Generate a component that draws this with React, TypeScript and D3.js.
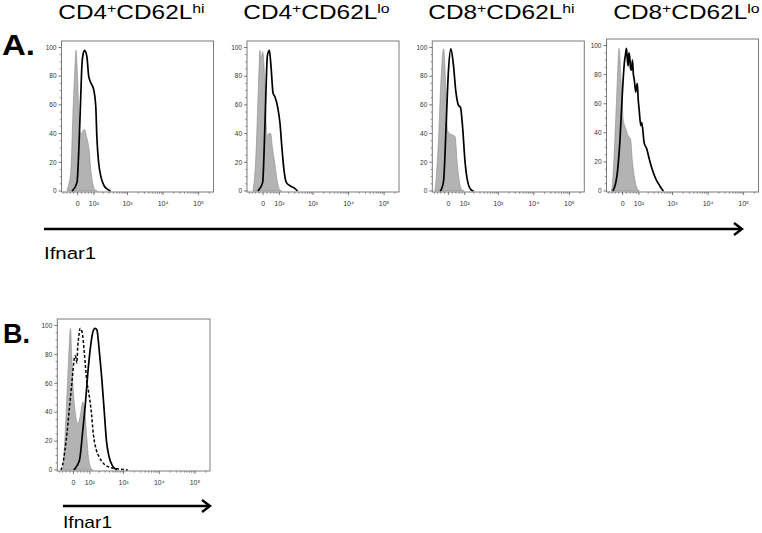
import React from "react";
import * as d3 from "d3";

const FONT = "'Liberation Sans', Arial, Helvetica, sans-serif";

// ---- axis / tick definitions ----
const X_MIN = -98;
const X_MAX = 262144;
const ASINH_C = 79;
const xMajorTicks = [0, 100, 1000, 10000, 100000];
const xMajorLabels = ["0", "10²", "10³", "10⁴", "10⁵"];
const xMinorTicks = [
  -80, -60, -40, -20, 20, 40, 60, 80,
  200, 300, 400, 500, 600, 700, 800, 900,
  2000, 3000, 4000, 5000, 6000, 7000, 8000, 9000,
  20000, 30000, 40000, 50000, 60000, 70000, 80000, 90000, 200000,
];
const yMajorTicks = [0, 20, 40, 60, 80, 100];
const yMinorTicks = [5, 10, 15, 25, 30, 35, 45, 50, 55, 65, 70, 75, 85, 90, 95];

// ---- titles ----
const titleMain = ["CD4", "CD4", "CD8", "CD8"];
const titleSup = ["hi", "lo", "hi", "lo"];
const axisLabel = "Ifnar1";

// ---- data: [fluorescence, % of max] ----
const cd4HiIso: [number, number][] = [
  [-58, 0], [-54, 2], [-45, 6], [-35, 15], [-22, 62], [-14, 85], [-8, 98], [-3, 88], [1.5, 73],
  [8, 45], [16, 40], [25, 41], [35, 43], [48, 38], [64, 29], [76, 15], [89, 6], [112, 0.5], [130, 0],
];
const cd4HiIfnar: [number, number][] = [
  [-30, 0], [-25, 0.5], [-3, 6], [7, 31], [15, 61], [23, 89], [30, 96], [37, 98], [50, 94], [62, 80],
  [70, 77], [78, 75], [97, 71], [116, 59], [126, 38], [144, 20], [170, 10], [215, 3.5], [260, 1.5],
  [300, 0.5], [330, 0],
];
const cd4LoIso: [number, number][] = [
  [-56, 0], [-53, 2], [-40, 20], [-24, 73], [-16, 98], [-11, 92], [-7, 94], [-2, 97], [6, 84],
  [12, 61], [21, 38], [30, 40], [41, 40], [50, 31], [65, 20], [85, 6], [105, 0.5], [120, 0],
];
const cd4LoIfnar: [number, number][] = [
  [-28, 0], [-24, 0.5], [-2, 6], [6, 31], [14, 66], [22, 94], [33, 98], [41, 89], [55, 68], [65, 66],
  [85, 59], [105, 47], [121, 31], [142, 15], [168, 6], [225, 3.5], [295, 2], [365, 0],
];
const cd8HiIso: [number, number][] = [
  [-80, 0], [-77, 1], [-65, 15], [-54, 36], [-40, 76], [-25, 99], [-13, 71], [-5, 43], [5, 40],
  [22, 39], [35, 38], [48, 19], [64, 5], [81, 0.5], [95, 0],
];
const cd8HiIfnar: [number, number][] = [
  [-45, 0], [-40, 0.5], [-25, 7], [-11, 48], [0, 83], [13, 99], [26, 88], [40, 69], [54, 60],
  [69, 58], [83, 45], [102, 21], [125, 7], [160, 1], [195, 0],
];
const cd8LoIso: [number, number][] = [
  [-62, 0], [-60, 1], [-41, 36], [-31, 65], [-18, 98], [-8, 77], [3.5, 49], [16, 43], [29, 38],
  [42, 36], [54, 20], [69, 8], [94, 0.5], [105, 0],
];
const cd8LoIfnar: [number, number][] = [
  [-55, 0], [-51, 0.5], [-27, 13], [-13, 36], [-2, 65], [9, 88], [15, 94], [20, 98], [25, 90],
  [29, 86], [33, 95], [38, 92], [43, 84], [48, 83], [54, 90], [60, 80], [65, 77], [76, 68], [87, 74],
  [95, 62], [102, 56], [116, 45], [125, 47], [134, 43], [150, 33], [180, 29], [215, 22], [262, 15],
  [340, 8], [424, 4], [529, 0.5], [560, 0],
];
const panelBIso: [number, number][] = [
  [-60, 0], [-58, 1], [-39, 39], [-26, 74], [-15, 98], [-9, 80], [-3.5, 62], [10, 39], [22, 32],
  [35, 37], [50, 47], [60, 44], [76, 23], [92, 6.5], [114, 0.7], [125, 0],
];
const panelBDashed: [number, number][] = [
  [-72, 0], [-69, 0.5], [-39, 20], [-20, 44], [-3.5, 67], [2, 75], [8.5, 79], [12, 78], [17, 74],
  [22, 85], [28, 93], [35, 98], [47, 95], [60, 81], [76, 62], [92, 53], [114, 39], [131, 25],
  [158, 15], [200, 9], [282, 4], [390, 2], [600, 1], [1100, 0.2], [1300, 0],
];
const panelBSolid: [number, number][] = [
  [2, 0], [5, 0.5], [31, 6.5], [50, 27], [67, 46], [84, 67], [102, 83], [125, 95], [148, 98],
  [170, 97], [200, 83], [241, 62], [281, 41], [327, 20], [390, 9], [483, 3], [600, 0.5], [650, 0],
];

const tf = (v: number) => Math.asinh(v / ASINH_C) / Math.LN10;

type HistProps = {
  x0: number; y0: number; w: number; h: number;
  iso: [number, number][];
  solid: [number, number][];
  dashed?: [number, number][];
};

function Histo({ x0, y0, w, h, iso, solid, dashed }: HistProps) {
  const lin = d3.scaleLinear().domain([tf(X_MIN), tf(X_MAX)]).range([x0, x0 + w]);
  const xs = (v: number) => lin(tf(v));
  const ys = d3.scaleLinear().domain([-0.7, 104.5]).range([y0 + h, y0]);
  const area = d3
    .area<[number, number]>()
    .x((d) => xs(d[0]))
    .y0(ys(0))
    .y1((d) => ys(d[1]))
    .curve(d3.curveMonotoneX);
  const line = d3
    .line<[number, number]>()
    .x((d) => xs(d[0]))
    .y((d) => ys(d[1]))
    .curve(d3.curveMonotoneX);
  const bottom = y0 + h;
  const tickCol = "#555";
  return (
    <g>
      <path d={area(iso) || ""} fill="#b3b3b3" stroke="#8a8a8a" strokeWidth={0.6} />
      {dashed && (
        <path d={line(dashed) || ""} fill="none" stroke="#000" strokeWidth={1.5} strokeDasharray="3,2" />
      )}
      <path d={line(solid) || ""} fill="none" stroke="#000" strokeWidth={1.7} />
      <rect x={x0} y={y0} width={w} height={h} fill="none" stroke="#7a7a7a" strokeWidth={1} />
      {yMajorTicks.map((t) => (
        <g key={"ym" + t}>
          <line x1={x0 - 3} x2={x0} y1={ys(t)} y2={ys(t)} stroke={tickCol} strokeWidth={0.8} />
          <text x={x0 - 5} y={ys(t) + 2.3} fontSize={6.5} textAnchor="end" fill="#333" fontFamily={FONT}>
            {t}
          </text>
        </g>
      ))}
      {yMinorTicks.map((t) => (
        <line key={"yn" + t} x1={x0 - 1.8} x2={x0} y1={ys(t)} y2={ys(t)} stroke={tickCol} strokeWidth={0.6} />
      ))}
      {xMajorTicks.map((t, i) => (
        <g key={"xm" + t}>
          <line x1={xs(t)} x2={xs(t)} y1={bottom} y2={bottom + 3} stroke={tickCol} strokeWidth={0.8} />
          <text x={xs(t)} y={bottom + 13.5} fontSize={7} textAnchor="middle" fill="#333" fontFamily={FONT}>
            {xMajorLabels[i]}
          </text>
        </g>
      ))}
      {xMinorTicks.map((t) => (
        <line key={"xn" + t} x1={xs(t)} x2={xs(t)} y1={bottom} y2={bottom + 1.8} stroke={tickCol} strokeWidth={0.6} />
      ))}
    </g>
  );
}

function Title({ x, y, main, sup }: { x: number; y: number; main: string; sup: string }) {
  return (
    <text transform={`translate(${x},${y}) scale(1.22,1)`} fontSize={20} fontFamily={FONT} fill="#000">
      {main}
      <tspan fontSize={13} dy={-6}>+</tspan>
      <tspan fontSize={20} dy={6}>CD62L</tspan>
      <tspan fontSize={13} dy={-6}>{sup}</tspan>
    </text>
  );
}

function Arrow({ x1, x2, y }: { x1: number; x2: number; y: number }) {
  return (
    <g stroke="#000" fill="none" strokeWidth={2.4}>
      <line x1={x1} x2={x2 - 1} y1={y} y2={y} />
      <polyline points={`${x2 - 8},${y - 6} ${x2},${y} ${x2 - 8},${y + 6}`} strokeLinejoin="miter" />
    </g>
  );
}

export default function App() {
  const panelsA = [
    { x0: 61.5, y0: 41, w: 152, h: 151, iso: cd4HiIso, solid: cd4HiIfnar },
    { x0: 247, y0: 41, w: 152, h: 151, iso: cd4LoIso, solid: cd4LoIfnar },
    { x0: 432.3, y0: 41, w: 152, h: 151, iso: cd8HiIso, solid: cd8HiIfnar },
    { x0: 606.5, y0: 39, w: 152, h: 153, iso: cd8LoIso, solid: cd8LoIfnar },
  ];
  const titleX = [58.3, 243.3, 428.3, 613.3];
  return (
    <svg width={762} height={533} style={{ position: "absolute", left: 0, top: 0, background: "#fff" }}>
      <rect x={0} y={0} width={762} height={533} fill="#fff" />
      {titleMain.map((m, i) => (
        <Title key={i} x={titleX[i]} y={18.5} main={m} sup={titleSup[i]} />
      ))}
      <text transform="translate(2,55) scale(1.1,1)" fontSize={30} fontWeight="bold" fontFamily={FONT}>A.</text>
      {panelsA.map((p, i) => (
        <Histo key={i} {...p} />
      ))}
      <Arrow x1={44} x2={742} y={229} />
      <text transform="translate(44,259) scale(1.2,1)" fontSize={17} fontFamily={FONT}>{axisLabel}</text>

      <text transform="translate(3,342.7)" fontSize={27} fontWeight="bold" fontFamily={FONT}>B.</text>
      <Histo x0={57.3} y0={319} w={152.7} h={152} iso={panelBIso} solid={panelBSolid} dashed={panelBDashed} />
      <Arrow x1={63} x2={210} y={506} />
      <text transform="translate(63,528) scale(1.2,1)" fontSize={16} fontFamily={FONT}>{axisLabel}</text>
    </svg>
  );
}
